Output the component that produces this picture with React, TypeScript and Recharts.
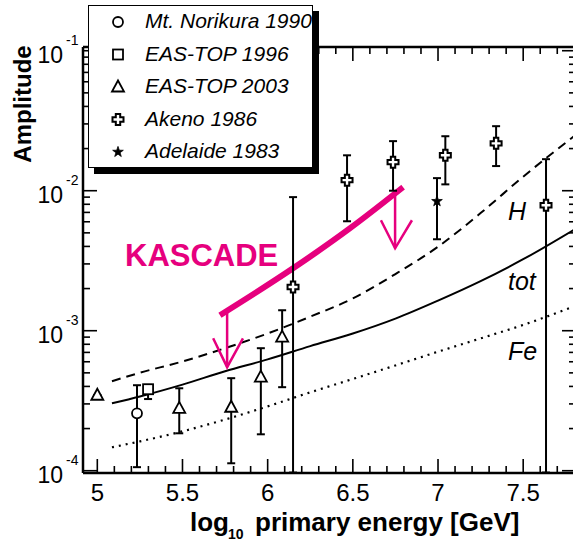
import React from 'react';
import { ComposedChart, XAxis, YAxis, Scatter, Line, ErrorBar, Legend, Customized } from 'recharts';

const FONT = '"Liberation Sans", Arial, Helvetica, sans-serif';
const MAGENTA = '#e6007e';

// ---------- axes ----------
const xDomain = [4.916, 7.81];
const xMajorTicks = [5, 5.5, 6, 6.5, 7, 7.5];
const xMajorLabels = ['5', '5.5', '6', '6.5', '7', '7.5'];
const xMinorTicks = [5.1, 5.2, 5.3, 5.4, 5.6, 5.7, 5.8, 5.9, 6.1, 6.2, 6.3, 6.4, 6.6, 6.7, 6.8, 6.9, 7.1, 7.2, 7.3, 7.4, 7.6, 7.7];

const yDomain = [9.63e-5, 0.1063];
const yMajorTicks = [1e-4, 1e-3, 1e-2, 1e-1];
const yMajorExponents = ['-4', '-3', '-2', '-1'];
const yMinorMultipliers = [2, 3, 4, 5, 6, 7, 8, 9];
const yMinorDecades = [1e-4, 1e-3, 1e-2];

// ---------- data ----------
const norikuraX = [5.233];
const norikuraY = [2.57e-4];
const norikuraLo = [1.06e-4];
const norikuraHi = [4.08e-4];

const eas96X = [5.298];
const eas96Y = [3.82e-4];
const eas96Lo = [3.25e-4];
const eas96Hi = [4.1e-4];

const eas03X = [5.0, 5.481, 5.786, 5.96, 6.085];
const eas03Y = [3.46e-4, 2.79e-4, 2.84e-4, 4.66e-4, 8.99e-4];
const eas03Lo = [3.46e-4, 1.85e-4, 1.13e-4, 1.82e-4, 3.95e-4];
const eas03Hi = [3.46e-4, 3.88e-4, 4.58e-4, 7.5e-4, 1.4e-3];

const akenoX = [6.149, 6.466, 6.736, 7.043, 7.341, 7.634];
const akenoY = [2.05e-3, 1.19e-2, 1.6e-2, 1.79e-2, 2.18e-2, 7.88e-3];
const akenoLo = [9.7e-5, 6.05e-3, 1.0e-2, 1.11e-2, 1.5e-2, 9.7e-5];
const akenoHi = [9e-3, 1.79e-2, 2.26e-2, 2.45e-2, 2.89e-2, 1.68e-2];

const adelaideX = [6.994];
const adelaideY = [8.41e-3];
const adelaideLo = [4.5e-3];
const adelaideHi = [1.23e-2];

const modelX = [5.086, 5.25, 5.5, 5.75, 6.0, 6.25, 6.5, 6.75, 7.0, 7.25, 7.5, 7.81];
const hY = [4.36e-4, 5.01e-4, 6.03e-4, 7.5e-4, 9.55e-4, 1.26e-3, 1.7e-3, 2.54e-3, 3.98e-3, 6.92e-3, 1.26e-2, 2.51e-2];
const totY = [3.03e-4, 3.39e-4, 4.12e-4, 5.13e-4, 6.24e-4, 7.76e-4, 9.55e-4, 1.22e-3, 1.64e-3, 2.26e-3, 3.24e-3, 5.37e-3];
const feY = [1.47e-4, 1.62e-4, 1.91e-4, 2.32e-4, 2.88e-4, 3.63e-4, 4.52e-4, 5.65e-4, 7.08e-4, 8.81e-4, 1.1e-3, 1.51e-3];

const kascadeX = [5.72, 6.149, 6.484, 6.795];
const kascadeY = [1.29e-3, 2.79e-3, 5.4e-3, 1.06e-2];

const arrow1ShaftX = [5.762, 5.762];
const arrow1ShaftY = [1.36e-3, 5.49e-4];
const arrow1HeadX = [5.68, 5.762, 5.855];
const arrow1HeadY = [8.83e-4, 5.49e-4, 8.83e-4];
const arrow2ShaftX = [6.748, 6.748];
const arrow2ShaftY = [9.9e-3, 3.88e-3];
const arrow2HeadX = [6.665, 6.748, 6.847];
const arrow2HeadY = [6.15e-3, 3.88e-3, 6.15e-3];

const legendNames = ['Mt. Norikura 1990', 'EAS-TOP 1996', 'EAS-TOP 2003', 'Akeno 1986', 'Adelaide 1983'];
const legendSymbols = ['circle', 'square', 'triangle', 'cross', 'star'];

// ---------- tables ----------
const pts = (xs: number[], ys: number[], lo: number[], hi: number[]) =>
  xs.map((x, i) => ({ x, y: ys[i], err: [ys[i] - lo[i], hi[i] - ys[i]] }));
const line = (xs: number[], ys: number[]) => xs.map((x, i) => ({ x, y: ys[i] }));

const xAllTicks = [...xMajorTicks, ...xMinorTicks].sort((a, b) => a - b);
const yMinorTicks: number[] = [];
yMinorDecades.forEach((d) => yMinorMultipliers.forEach((m) => yMinorTicks.push(m * d)));
const yAllTicks = [...yMajorTicks, ...yMinorTicks].sort((a, b) => a - b);

const MAJ = 14;
const MIN = 7;
const TW = 1.6;

const xMajorIndex = (v: number) => xMajorTicks.findIndex((t) => Math.abs(t - v) < 1e-6);
const yMajorIndex = (v: number) => yMajorTicks.findIndex((t) => Math.abs(t - v) / t < 1e-6);

const BottomTick = (p: any) => {
  const { x, y, payload } = p;
  const i = xMajorIndex(payload.value);
  return (
    <g>
      <line x1={x} y1={y} x2={x} y2={y - (i >= 0 ? MAJ : MIN)} stroke="#000" strokeWidth={TW} />
      {i >= 0 && (
        <text x={x} y={y + 28} textAnchor="middle" fontFamily={FONT} fontSize={24} fill="#000">
          {xMajorLabels[i]}
        </text>
      )}
    </g>
  );
};
const TopTick = (p: any) => {
  const { x, y, payload } = p;
  const i = xMajorIndex(payload.value);
  return <line x1={x} y1={y} x2={x} y2={y + (i >= 0 ? MAJ : MIN)} stroke="#000" strokeWidth={TW} />;
};
const LeftTick = (p: any) => {
  const { x, y, payload } = p;
  const i = yMajorIndex(payload.value);
  return (
    <g>
      <line x1={x} y1={y} x2={x + (i >= 0 ? MAJ : MIN)} y2={y} stroke="#000" strokeWidth={TW} />
      {i >= 0 && (
        <g fontFamily={FONT} fill="#000">
          <text x={x - 20} y={y + 12} textAnchor="end" fontSize={23}>10</text>
          <text x={x - 17} y={y - 6} fontSize={14}>{yMajorExponents[i]}</text>
        </g>
      )}
    </g>
  );
};
const RightTick = (p: any) => {
  const { x, y, payload } = p;
  const i = yMajorIndex(payload.value);
  return <line x1={x} y1={y} x2={x - (i >= 0 ? MAJ : MIN)} y2={y} stroke="#000" strokeWidth={TW} />;
};

const Marker = ({ kind, cx, cy }: { kind: string; cx: number; cy: number }) => {
  const s = { stroke: '#000', strokeWidth: 1.8, fill: '#fff' };
  if (kind === 'circle') return <circle cx={cx} cy={cy} r={5} {...s} />;
  if (kind === 'square') return <rect x={cx - 5} y={cy - 5} width={10} height={10} {...s} />;
  if (kind === 'triangle')
    return <path d={`M${cx},${cy - 6.5}L${cx + 6},${cy + 4.5}L${cx - 6},${cy + 4.5}Z`} {...s} />;
  if (kind === 'cross') {
    const a = 2.2, b = 5.5;
    const d = `M${cx - a},${cy - b}L${cx + a},${cy - b}L${cx + a},${cy - a}L${cx + b},${cy - a}L${cx + b},${cy + a}L${cx + a},${cy + a}L${cx + a},${cy + b}L${cx - a},${cy + b}L${cx - a},${cy + a}L${cx - b},${cy + a}L${cx - b},${cy - a}L${cx - a},${cy - a}Z`;
    return <path d={d} {...s} strokeWidth={2} />;
  }
  // star
  const p: string[] = [];
  for (let k = 0; k < 10; k++) {
    const r = k % 2 === 0 ? 5.6 : 2.2;
    const ang = -Math.PI / 2 + (k * Math.PI) / 5;
    p.push(`${cx + r * Math.cos(ang)},${cy + r * Math.sin(ang)}`);
  }
  return <polygon points={p.join(' ')} fill="#000" stroke="#000" strokeWidth={0.8} />;
};

const shapeOf = (kind: string) => (p: any) => <Marker kind={kind} cx={p.cx} cy={p.cy} />;

const LegendBox = () => (
  <div
    style={{
      width: 225,
      height: 163,
      boxSizing: 'border-box',
      border: '1.5px solid #000',
      background: '#fff',
      boxShadow: '6px 6px 0 #000',
      position: 'relative',
      overflow: 'hidden',
    }}
  >
    <svg width={225} height={163} style={{ position: 'absolute', left: -1.5, top: -1.5 }}>
      {legendNames.map((n, i) => (
        <g key={n}>
          <Marker kind={legendSymbols[i]} cx={30} cy={17 + i * 32.5} />
          <text x={57} y={23 + i * 32.5} fontFamily={FONT} fontSize={21} fontStyle="italic" fill="#000">
            {n}
          </text>
        </g>
      ))}
    </svg>
  </div>
);

const Annotations = () => (
  <g fontFamily={FONT}>
    <text x={125} y={266} fontSize={31} fontWeight="bold" fill={MAGENTA}>KASCADE</text>
    <text x={508} y={220} fontSize={25} fontStyle="italic" fill="#000">H</text>
    <text x={508} y={290} fontSize={25} fontStyle="italic" fill="#000">tot</text>
    <text x={508} y={360} fontSize={25} fontStyle="italic" fill="#000">Fe</text>
    <text x={190} y={531} fontSize={26} fontWeight="bold" fill="#000">log</text>
    <text x={228} y={539} fontSize={14} fontWeight="bold" fill="#000">10</text>
    <text x={255} y={531} fontSize={26} fontWeight="bold" fill="#000">primary energy [GeV]</text>
    <text
      x={31}
      y={104}
      transform="rotate(-90, 31, 104)"
      textAnchor="middle"
      fontSize={24}
      fontWeight="bold"
      fill="#000"
    >
      Amplitude
    </text>
  </g>
);

const axisLineStyle = { stroke: '#000', strokeWidth: 2.5 };

export default function App() {
  const common = { xAxisId: 'x', yAxisId: 'y', isAnimationActive: false } as const;
  return (
    <div style={{ position: 'absolute', left: 0, top: 0, width: 573, height: 541, overflow: 'hidden', background: '#fff' }}>
      <ComposedChart width={580} height={541} margin={{ top: 46, right: 3, bottom: 0, left: 0 }}>
        <XAxis
          xAxisId="x"
          dataKey="x"
          type="number"
          orientation="bottom"
          domain={xDomain}
          allowDataOverflow
          ticks={xAllTicks}
          interval={0}
          tick={BottomTick}
          tickLine={false}
          tickSize={0}
          tickMargin={0}
          axisLine={axisLineStyle}
          height={68}
        />
        <XAxis
          xAxisId="xt"
          dataKey="x"
          type="number"
          orientation="top"
          domain={xDomain}
          allowDataOverflow
          ticks={xAllTicks}
          interval={0}
          tick={TopTick}
          tickLine={false}
          tickSize={0}
          tickMargin={0}
          axisLine={axisLineStyle}
          height={1}
        />
        <YAxis
          yAxisId="y"
          dataKey="y"
          type="number"
          scale="log"
          orientation="left"
          domain={yDomain}
          allowDataOverflow
          ticks={yAllTicks}
          interval={0}
          tick={LeftTick}
          tickLine={false}
          tickSize={0}
          tickMargin={0}
          axisLine={axisLineStyle}
          width={83}
        />
        <YAxis
          yAxisId="yr"
          dataKey="y"
          type="number"
          scale="log"
          orientation="right"
          domain={yDomain}
          allowDataOverflow
          ticks={yAllTicks}
          interval={0}
          tick={RightTick}
          tickLine={false}
          tickSize={0}
          tickMargin={0}
          axisLine={axisLineStyle}
          width={1}
        />

        {/* invisible copy of the total curve, so the mirrored top/right axes get a scale */}
        <Line
          xAxisId="xt"
          yAxisId="yr"
          isAnimationActive={false}
          data={line(modelX, totY)}
          dataKey="y"
          stroke="transparent"
          dot={false}
          activeDot={false}
          legendType="none"
        />

        <Line {...common} data={line(modelX, hY)} dataKey="y" type="monotone" stroke="#000" strokeWidth={2} strokeDasharray="9 6" dot={false} />
        <Line {...common} data={line(modelX, totY)} dataKey="y" type="monotone" stroke="#000" strokeWidth={2} dot={false} />
        <Line {...common} data={line(modelX, feY)} dataKey="y" type="monotone" stroke="#000" strokeWidth={2.2} strokeDasharray="2 5" dot={false} />

        <Line {...common} data={line(kascadeX, kascadeY)} dataKey="y" type="monotone" stroke={MAGENTA} strokeWidth={6} dot={false} />
        <Line {...common} data={line(arrow1ShaftX, arrow1ShaftY)} dataKey="y" type="linear" stroke={MAGENTA} strokeWidth={2.5} dot={false} />
        <Line {...common} data={line(arrow1HeadX, arrow1HeadY)} dataKey="y" type="linear" stroke={MAGENTA} strokeWidth={2.5} dot={false} />
        <Line {...common} data={line(arrow2ShaftX, arrow2ShaftY)} dataKey="y" type="linear" stroke={MAGENTA} strokeWidth={2.5} dot={false} />
        <Line {...common} data={line(arrow2HeadX, arrow2HeadY)} dataKey="y" type="linear" stroke={MAGENTA} strokeWidth={2.5} dot={false} />

        <Scatter {...common} name="Mt. Norikura 1990" data={pts(norikuraX, norikuraY, norikuraLo, norikuraHi)} shape={shapeOf('circle')}>
          <ErrorBar dataKey="err" direction="y" width={4} stroke="#000" strokeWidth={2} />
        </Scatter>
        <Scatter {...common} name="EAS-TOP 1996" data={pts(eas96X, eas96Y, eas96Lo, eas96Hi)} shape={shapeOf('square')}>
          <ErrorBar dataKey="err" direction="y" width={4} stroke="#000" strokeWidth={2} />
        </Scatter>
        <Scatter {...common} name="EAS-TOP 2003" data={pts(eas03X, eas03Y, eas03Lo, eas03Hi)} shape={shapeOf('triangle')}>
          <ErrorBar dataKey="err" direction="y" width={4} stroke="#000" strokeWidth={2} />
        </Scatter>
        <Scatter {...common} name="Akeno 1986" data={pts(akenoX, akenoY, akenoLo, akenoHi)} shape={shapeOf('cross')}>
          <ErrorBar dataKey="err" direction="y" width={4} stroke="#000" strokeWidth={2} />
        </Scatter>
        <Scatter {...common} name="Adelaide 1983" data={pts(adelaideX, adelaideY, adelaideLo, adelaideHi)} shape={shapeOf('star')}>
          <ErrorBar dataKey="err" direction="y" width={4} stroke="#000" strokeWidth={2} />
        </Scatter>

        <Customized component={Annotations} />
        <Legend
          layout="vertical"
          align="center"
          verticalAlign="middle"
          content={LegendBox}
          wrapperStyle={{ left: 88, top: 5, width: 225, height: 163 }}
        />
      </ComposedChart>
    </div>
  );
}
